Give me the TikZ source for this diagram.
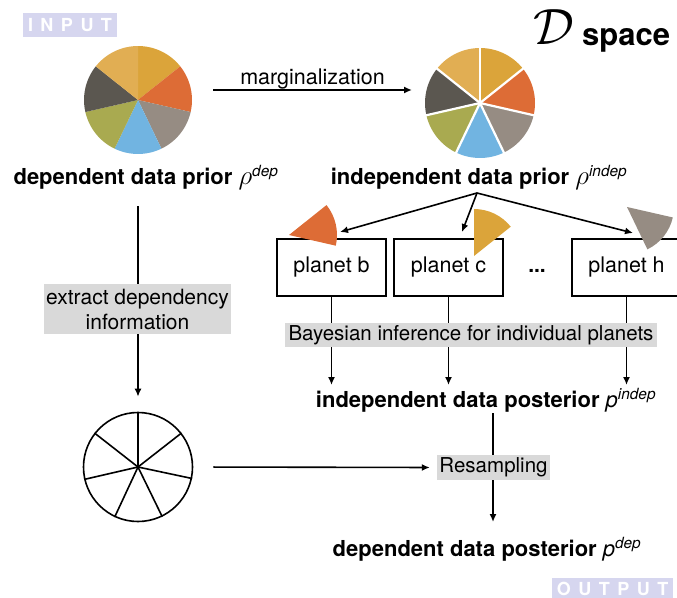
\RequirePackage{fix-cm}
\documentclass[tikz,border=0pt]{standalone}
\usepackage{fontspec}
\setmainfont{TeX Gyre Heros}
\usetikzlibrary{arrows.meta,calc}
\definecolor{cgold}{HTML}{DBA43A}
\definecolor{corange}{HTML}{DD6C36}
\definecolor{cgrey}{HTML}{968C83}
\definecolor{cblue}{HTML}{71B4E1}
\definecolor{colive}{HTML}{A9AA50}
\definecolor{cdark}{HTML}{5B5750}
\definecolor{clight}{HTML}{E1AE53}
\definecolor{lav}{HTML}{D6D6EF}
\definecolor{lblgray}{HTML}{D9D9D9}
\pgfdeclarelayer{back}
\pgfsetlayers{back,main}
\newcommand{\bigrho}{{\fontsize{27}{27}\selectfont$\rho$}}
\begin{document}
\begin{tikzpicture}[x=1pt,y=-1pt,
  arr/.style={line width=1.6pt, -{Latex[length=8pt,width=7pt]}},
  plbox/.style={draw, line width=1.6pt, minimum width=109pt, minimum height=57pt, inner sep=0pt, font=\fontsize{21.5}{25}\selectfont},
  greylbl/.style={fill=lblgray, inner sep=0pt, font=\fontsize{20.5}{25}\selectfont, align=center},
  bigtxt/.style={font=\fontsize{22}{26}\selectfont\bfseries, anchor=base, inner sep=0pt},
  tagbox/.style={fill=lav, text=white, font=\fontsize{18}{20}\selectfont\bfseries, inner sep=0pt}]
\useasboundingbox (0,0) rectangle (677,597);

% tags
\node[tagbox, minimum width=94pt, minimum height=24pt] (input) at (70,25) {I\kern7.5pt N\kern7.5pt P\kern7.5pt U\kern7.5pt T};
\node[tagbox, minimum width=121pt, minimum height=21pt] (output) at (612.5,588.5) {O\kern7.5pt U\kern7.5pt T\kern7.5pt P\kern7.5pt U\kern7.5pt T};

% D space
\node[anchor=base west, inner sep=0pt, font=\fontsize{51}{51}\selectfont] (dcal) at (533,44) {$\mathcal{D}$};
\node[anchor=base west, inner sep=0pt, font=\fontsize{31}{31}\selectfont\bfseries] (spc) at (582,45) {space};

% pie 1 (dependent prior)
\coordinate (pA) at (138,100);
\foreach \c [count=\k from 0] in {cgold,corange,cgrey,cblue,colive,cdark,clight}{
  \pgfmathsetmacro\aa{\k*360/7-90}
  \pgfmathsetmacro\bb{(\k+1)*360/7-90}
  \fill[\c] (pA) -- ++(\aa:54) arc[start angle=\aa, end angle=\bb, radius=54] -- cycle;
}
% pie 2 (independent prior)
\coordinate (pB) at (480,103);
\foreach \c [count=\k from 0] in {cgold,corange,cgrey,cblue,colive,cdark,clight}{
  \pgfmathsetmacro\aa{\k*360/7-90}
  \pgfmathsetmacro\bb{(\k+1)*360/7-90}
  \fill[\c] (pB) -- ++(\aa:55) arc[start angle=\aa, end angle=\bb, radius=55] -- cycle;
}
\foreach \k in {0,...,6}{
  \draw[white, line width=2.2pt] (pB) -- ++(\k*360/7-90:57);
}

% texts
\node[bigtxt] (dprior) at (146,184) {dependent data prior \bigrho\textsuperscript{\mdseries\itshape dep}};
\node[bigtxt] (iprior) at (479,184) {independent data prior \bigrho\textsuperscript{\mdseries\itshape indep}};
\node[bigtxt] (ipost) at (486,407) {independent data posterior {\mdseries\itshape p}\textsuperscript{\mdseries\itshape indep}};
\node[bigtxt] (dpost) at (487,556) {dependent data posterior {\mdseries\itshape p}\textsuperscript{\mdseries\itshape dep}};

% marginalization arrow
\coordinate (mA) at (213,90);
\coordinate (mB) at (412,90);
\draw[arr] (mA) -- (mB);
\node[anchor=base, inner sep=0pt, font=\fontsize{21.5}{25}\selectfont] (marg) at (312.5,84) {marginalization};

% planet boxes
\node[plbox] (pb) at (331.5,267.5) {planet b};
\node[plbox] (pc) at (448.5,267.5) {planet c};
\node[plbox] (ph) at (626.5,267.5) {planet h};
\node[anchor=base, inner sep=0pt, font=\fontsize{21}{25}\selectfont\bfseries] (dots) at (537,272) {...};

% wedges
\fill[corange] (289,235) -- ++(-38.571:48) arc[start angle=-38.571, end angle=12.857, radius=48] -- cycle;
\fill[cgold] (474,256) -- ++(-90:47) arc[start angle=-90, end angle=-38.571, radius=47] -- cycle;
\fill[cgrey] (627,207) -- ++(12.857:47) arc[start angle=12.857, end angle=64.286, radius=47] -- cycle;

% fan arrows
\coordinate (fan) at (477,193);
\coordinate (tb) at (340,232);
\coordinate (tc) at (462,232);
\coordinate (th) at (633,233);
\draw[arr] (fan) -- (tb);
\draw[arr] (fan) -- (tc);
\draw[arr] (fan) -- (th);

% wheel
\node[circle, draw, line width=1.6pt, minimum size=109pt, inner sep=0pt] (wheel) at (138,467) {};
\foreach \k in {0,...,6}{
  \draw[line width=1.6pt] (wheel.center) -- (wheel.{90-\k*360/7});
}

% connectors behind labels
\coordinate (ls) at (138,206);
\coordinate (ps) at (493,413);
\coordinate (pe) at (493,522);
\coordinate (lvl) at (0,385);
\begin{pgfonlayer}{back}
\draw[arr, shorten >=15pt] (ls) -- (wheel.north);
\draw[arr] (pb.south) -- (pb.south |- lvl);
\draw[arr] (pc.south) -- (pc.south |- lvl);
\draw[arr] (ph.south) -- (ph.south |- lvl);
\draw[arr] (ps) -- (pe);
\end{pgfonlayer}

% grey labels
\node[greylbl, minimum width=187pt, minimum height=50pt, font=\fontsize{21}{25}\selectfont] (extract) at (137.5,309) {extract dependency\\information};
\node[greylbl, minimum width=372pt, minimum height=24pt] (bayes) at (471,335) {Bayesian inference for individual planets};
\node[greylbl, minimum width=113pt, minimum height=25pt] (res) at (493.5,467.5) {Resampling};

\draw[arr, shorten <=20pt, shorten >=7pt] (wheel.east) -- (res.west);
\end{tikzpicture}
\end{document}
